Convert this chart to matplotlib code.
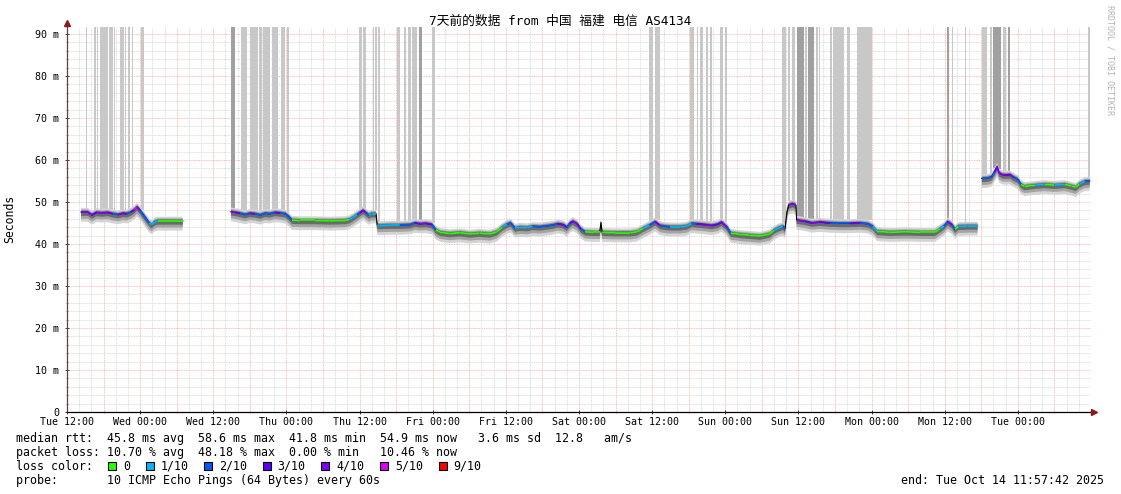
import numpy as np
import matplotlib
matplotlib.use("Agg")
import matplotlib.pyplot as plt
from matplotlib.collections import LineCollection
from matplotlib.patches import Rectangle
from matplotlib.lines import Line2D

W, H = 1121, 494

# hours since Tue 12:00, median rtt (ms), lost pings out of 10; nan = no data
hours = [2.3, 3.4, 4.1, 4.8, 5.7, 6.7, 7.5, 8.4, 9.2, 9.8, 10.5, 11.0, 11.5, 12.0,
         12.5, 13.0, 13.5, 13.9, 14.4, 14.9, 16.9, 19.0,
         23.0,
         26.9, 27.7, 28.4, 29.2, 30.0, 30.8, 31.7, 32.5, 33.3, 34.1, 34.9, 35.8, 36.4,
         36.9, 38.2, 40.7, 43.1, 45.6, 46.3, 46.9, 47.6, 48.1, 48.6, 49.1, 49.5, 50.0,
         50.7, 50.9, 51.3, 53.0, 54.6, 56.3, 57.1, 57.9, 58.9, 59.9, 60.5, 61.2, 62.8,
         64.5, 66.1, 67.7, 69.4, 70.5, 71.4, 72.2, 72.8, 73.5, 74.3, 75.5, 76.4, 77.6,
         78.7, 79.7, 80.5, 81.4, 82.0, 82.5, 83.0, 83.7, 84.3, 85.0, 86.3, 87.4, 87.6,
         87.8, 89.9, 92.4, 93.5, 94.5, 95.6, 96.5, 97.3, 98.1, 98.9, 100.6, 101.7,
         102.5, 103.3, 104.7, 105.8, 106.8, 107.4, 108.3, 108.9, 110.4, 112.0, 113.7,
         115.3, 116.0, 116.8, 117.5, 117.8, 118.1, 118.4, 119.1, 119.6, 119.7, 121.1,
         122.2, 123.5, 125.2, 126.8, 128.4, 130.1, 131.4, 132.2, 132.9, 135.0, 137.5,
         140.0, 142.4, 143.2, 143.9, 144.5, 145.2, 145.7, 146.2, 147.8, 149.4,
         149.8,
         150.1, 151.1, 151.7, 152.2, 152.6, 152.9, 153.4, 154.0, 154.7, 155.3, 156.0,
         156.5, 157.1, 158.8, 160.4, 162.0, 163.7, 164.8, 165.5, 166.1, 167.0, 167.8]
median_ms = [47.6, 47.6, 46.9, 47.5, 47.4, 47.5, 47.2, 47.0, 47.3, 47.2, 47.6, 48.1, 48.8, 48.0,
             47.0, 46.0, 45.0, 44.6, 45.3, 45.5, 45.5, 45.5,
             np.nan,
             47.7, 47.5, 47.3, 47.0, 47.3, 47.2, 46.9, 47.3, 47.2, 47.5, 47.4, 47.2, 46.5,
             45.7, 45.6, 45.6, 45.5, 45.6, 45.8, 46.3, 47.0, 47.5, 48.0, 47.4, 46.9, 47.2,
             47.2, 44.5, 44.4, 44.5, 44.5, 44.6, 45.0, 44.8, 44.9, 44.6, 43.4, 42.8, 42.5,
             42.7, 42.4, 42.6, 42.4, 42.9, 44.0, 44.7, 45.0, 43.8, 44.0, 43.9, 44.2, 44.1,
             44.3, 44.5, 44.8, 44.6, 44.0, 44.9, 45.4, 44.8, 43.6, 42.9, 42.8, 42.8, 45.1,
             42.8, 42.7, 42.7, 42.9, 43.7, 44.5, 45.3, 44.4, 44.2, 44.1, 44.1, 44.3,
             44.9, 44.8, 44.6, 44.4, 44.7, 45.2, 44.0, 42.6, 42.3, 42.1, 41.9,
             42.4, 43.3, 43.9, 44.2, 43.6, 47.5, 49.3, 49.6, 49.2, 45.7, 45.4,
             45.0, 45.2, 45.0, 44.9, 44.9, 45.0, 44.8, 44.2, 43.0, 42.8, 42.9,
             42.8, 42.8, 43.6, 44.3, 45.3, 44.6, 43.5, 44.2, 44.3, 44.3,
             np.nan,
             55.6, 55.7, 56.0, 57.2, 58.4, 57.0, 56.5, 56.4, 56.5, 55.9, 55.4,
             54.2, 53.7, 54.0, 54.2, 54.0, 54.2, 53.8, 53.5, 54.3, 54.9, 55.0]
loss = [4, 4, 3, 4, 4, 3, 2, 4, 3, 2, 3, 5, 4, 2,
        2, 2, 1, 1, 1, 0, 0, 0,
        0,
        4, 3, 2, 2, 3, 2, 2, 2, 2, 3, 2, 2, 2,
        0, 0, 0, 0, 0, 1, 1, 2, 3, 4, 2, 1, 1,
        1, 1, 1, 1, 2, 2, 3, 4, 3, 2, 0, 0, 0,
        0, 0, 0, 0, 0, 1, 2, 2, 1, 1, 1, 2, 2,
        2, 2, 3, 3, 2, 3, 4, 3, 2, 0, 0, 0, 0,
        0, 0, 0, 0, 1, 2, 4, 2, 2, 1, 1, 1,
        2, 3, 4, 3, 3, 4, 2, 0, 0, 0, 0,
        0, 1, 1, 2, 1, 2, 4, 4, 4, 4, 3,
        4, 3, 2, 2, 3, 2, 2, 1, 0, 0, 0,
        0, 0, 1, 2, 4, 2, 0, 1, 1, 1,
        0,
        2, 2, 2, 3, 4, 4, 4, 3, 4, 2, 2,
        0, 0, 1, 0, 1, 0, 0, 0, 1, 2, 1]

# loss spikes (grey bars up to the top): start hour, width in hours, dark shade
bar_start = [3.1, 4.4, 4.9, 5.4, 6.9, 7.7, 8.7, 9.5, 10.0, 10.7, 12.1,
             26.9, 28.5, 30.0, 31.5, 32.2, 33.6, 35.1, 36.1,
             47.9, 48.6, 50.2, 50.5, 51.0, 54.1, 55.3, 55.9, 56.6, 57.7, 59.9,
             95.5, 96.5, 102.2, 103.3, 103.8, 104.8, 105.5, 107.1, 107.9,
             117.3, 118.3, 118.9, 119.8, 121.1, 121.6, 122.9, 123.4, 125.2, 125.7,
             128.0, 129.6, 144.4, 145.2, 147.3,
             150.1, 151.4, 151.9, 152.6, 153.5, 154.4, 167.5]
bar_width = [0.2, 0.3, 0.2, 1.3, 0.7, 0.2, 0.6, 0.2, 0.3, 0.2, 0.6,
             0.6, 1.1, 1.3, 0.5, 1.1, 1.0, 0.6, 0.3,
             0.5, 0.5, 0.2, 0.3, 0.3, 0.5, 0.3, 0.5, 0.8, 0.5, 0.5,
             0.6, 0.8, 0.6, 0.3, 0.6, 0.3, 0.3, 0.5, 0.3,
             0.6, 0.3, 0.6, 1.1, 0.3, 1.0, 0.3, 0.2, 0.3, 1.8,
             0.5, 2.5, 0.3, 0.2, 0.2,
             0.8, 0.3, 0.6, 0.6, 0.6, 0.3, 0.4]
bar_dark = [0, 0, 0, 0, 0, 0, 0, 0, 0, 0, 0,
            1, 0, 0, 0, 0, 0, 0, 0,
            0, 0, 0, 0, 0, 0, 0, 0, 0, 1, 0,
            0, 0, 0, 0, 0, 0, 0, 0, 0,
            0, 0, 0, 1, 0, 1, 0, 0, 0, 0,
            0, 0, 1, 0, 0,
            0, 0, 1, 1, 0, 1, 0]

x_labels = ["Tue 12:00", "Wed 00:00", "Wed 12:00", "Thu 00:00", "Thu 12:00",
            "Fri 00:00", "Fri 12:00", "Sat 00:00", "Sat 12:00", "Sun 00:00",
            "Sun 12:00", "Mon 00:00", "Mon 12:00", "Tue 00:00"]
y_labels = ["0", "10 m", "20 m", "30 m", "40 m", "50 m", "60 m", "70 m", "80 m", "90 m"]

loss_colors = {0: "#26ff00", 1: "#00b8ff", 2: "#0059ff", 3: "#5e00ff",
               4: "#7e00ff", 5: "#dd00ff", 9: "#ff0000"}
legend_keys = [0, 1, 2, 3, 4, 5, 9]
legend_text = ["0", "1/10", "2/10", "3/10", "4/10", "5/10", "9/10"]

title = "7天前的数据 from 中国 福建 电信 AS4134"
rtt_line = "median rtt:  45.8 ms avg  58.6 ms max  41.8 ms min  54.9 ms now   3.6 ms sd  12.8   am/s"
loss_line = "packet loss: 10.70 % avg  48.18 % max  0.00 % min   10.46 % now"
probe_line = "probe:       10 ICMP Echo Pings (64 Bytes) every 60s"
end_line = "end: Tue Oct 14 11:57:42 2025"

MONO = "DejaVu Sans Mono"
plt.rcParams["font.family"] = [MONO, "Noto Sans CJK SC"]

t = np.array(hours)
m = np.array(median_ms)
ymax = (412 - 27) / 4.2

fig = plt.figure(figsize=(W / 100, H / 100), dpi=100)
ax = fig.add_axes([67 / W, (H - 412) / H, (1091 - 67) / W, (412 - 27) / H])
ax.set_xlim(0, 168)
ax.set_ylim(0, ymax)

# grid: minor every 2 units, major (red) every 6 h / 10 ms
dot = (0, (1, 1))
for h in np.arange(2, 168, 2):
    c = "#f4a8a8" if h % 6 == 0 else "#d2d2d2"
    ax.axvline(h, color=c, lw=0.6, ls=dot, zorder=0)
for v in np.arange(2, 92, 2):
    c = "#f4a8a8" if v % 10 == 0 else "#d2d2d2"
    ax.axhline(v, color=c, lw=0.6, ls=dot, zorder=0)

# loss bars from smoke top up to the top of the graph
ok = ~np.isnan(m)
centers = np.array(bar_start) + np.array(bar_width) / 2
bottoms = np.interp(centers, t[ok], m[ok]) + 0.8
ax.bar(bar_start, ymax - bottoms, width=bar_width, bottom=bottoms, align="edge",
       color=["#a0a0a0" if d else "#c8c8c8" for d in bar_dark], lw=0, zorder=1)

# smoke
ax.fill_between(t, m - 2.3, m + 1.0, color="#d4d4d4", lw=0, zorder=2)
ax.fill_between(t, m - 1.6, m + 0.6, color="#a4a4a4", lw=0, zorder=2)
ax.fill_between(t, m - 0.9, m + 0.35, color="#6a6a6a", lw=0, zorder=2)

# median
ax.plot(t, m, color="black", lw=0.8, zorder=3)
segs, cols = [], []
for i in range(len(t) - 1):
    if ok[i] and ok[i + 1] and abs(m[i + 1] - m[i]) < 1.5:
        segs.append([(t[i], m[i]), (t[i + 1], m[i + 1])])
        cols.append(loss_colors[loss[i]])
ax.add_collection(LineCollection(segs, colors=cols, linewidths=1.3, zorder=4,
                                 capstyle="butt"))

# axes and ticks
for s in ax.spines.values():
    s.set_visible(False)
ax.set_xticks(np.arange(0, 168, 12))
ax.set_xticklabels(x_labels)
ax.set_xticks(np.arange(0, 168, 6), minor=True)
ax.set_yticks(np.arange(0, 91, 10))
ax.set_yticklabels(y_labels)
ax.set_yticks(np.arange(0, 92, 2), minor=True)
ax.tick_params(axis="both", which="major", labelsize=7.2, length=3, width=0.7,
               direction="inout", color="#444444")
ax.tick_params(axis="both", which="minor", length=2, width=0.6, direction="inout",
               color="#888888")
ax.tick_params(axis="x", pad=2)
ax.tick_params(axis="y", pad=4)

fig.add_artist(Line2D([67 / W, 67 / W], [(H - 412) / H, (H - 24) / H], color="#604040",
                      lw=0.9, transform=fig.transFigure))
fig.add_artist(Line2D([67 / W, 1093 / W], [(H - 412) / H, (H - 412) / H], color="black",
                      lw=0.9, transform=fig.transFigure))
fig.add_artist(Line2D([67 / W], [(H - 23) / H], marker="^", ms=4, color="#8b1a1a",
                      transform=fig.transFigure))
fig.add_artist(Line2D([1094 / W], [(H - 412) / H], marker=">", ms=4, color="#8b1a1a",
                      transform=fig.transFigure))

# texts
def ftext(x, y, s, **kw):
    return fig.text(x / W, 1 - y / H, s, **kw)

ftext(560, 21, title, ha="center", va="center", fontsize=9.2,
      family=[MONO, "Noto Sans CJK SC"])
ftext(10, 219, "Seconds", rotation=90, ha="center", va="center", fontsize=8.3)
ftext(1110, 60, "RRDTOOL / TOBI OETIKER", rotation=270, ha="center", va="center",
      fontsize=6, color="#b4b4b4")

fs = 8.4
cw = 7.03
ftext(16, 438, rtt_line, va="center", fontsize=fs)
ftext(16, 452, loss_line, va="center", fontsize=fs)
ftext(16, 466, "loss color:", va="center", fontsize=fs)
ftext(16, 480, probe_line, va="center", fontsize=fs)
ftext(1104, 480, end_line, va="center", ha="right", fontsize=fs)

bx = 108
for k, lab in zip(legend_keys, legend_text):
    fig.add_artist(Rectangle((bx / W, 1 - 470 / H), 8 / W, 8 / H, facecolor=loss_colors[k],
                             edgecolor="black", lw=0.8, transform=fig.transFigure))
    ftext(bx + 15, 466, lab, va="center", fontsize=fs)
    bx = bx + 15 + len(lab) * cw + 15.5

fig.savefig("out.png", dpi=100)
